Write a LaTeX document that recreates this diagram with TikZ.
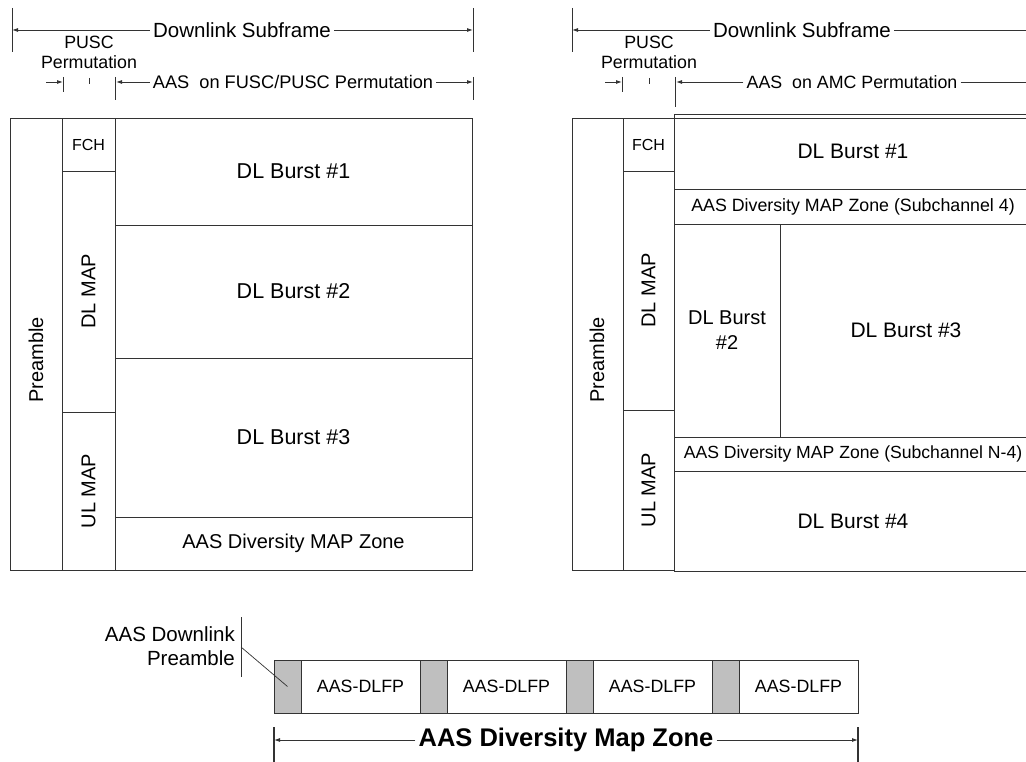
\documentclass[tikz,border=0pt]{standalone}
\usepackage{fontspec}
\setmainfont{Liberation Sans}
\usetikzlibrary{arrows.meta}
\newcommand\mybox[7][]{\node[box,#1,minimum width={#5-#3},minimum height={#6-#4}] (#2) at ({(#3+#5)/2},{(#4+#6)/2}) {#7};}
\begin{document}
\begin{tikzpicture}[x=1pt,y=-1pt,
  ln/.style={draw=black!80, line width=0.9pt},
  box/.style={ln, rectangle, inner sep=0pt, outer sep=0pt, anchor=center, align=center, font=\fontsize{20}{23}\selectfont},
  gbox/.style={fill=black!25},
  tx/.style={inner sep=0pt, align=center},
  big/.style={font=\fontsize{20}{23}\selectfont},
  mid/.style={font=\fontsize{17.8}{19}\selectfont},
  dim/.style={inner sep=3pt, align=center},
  arr/.style={ln, -{Latex[length=6pt,width=4pt]}},
]
\useasboundingbox (0,0) rectangle (1026,762);
\clip (0,0) rectangle (1026,762);

% ---------------- left frame ----------------
\mybox{pre1}{10}{118}{62}{570}{}
\node[tx, big, rotate=90] (pre1t) at (36,360) {Preamble};
\mybox[font=\fontsize{16}{18}\selectfont]{fch1}{62}{118}{115}{171}{FCH}
\mybox{dlm1}{62}{171}{115}{412}{}
\node[tx, big, rotate=90] (dlm1t) at (dlm1) {DL MAP};
\mybox{ulm1}{62}{412}{115}{570}{}
\node[tx, big, rotate=90] (ulm1t) at (ulm1) {UL MAP};
\mybox[font=\fontsize{21.5}{24}\selectfont]{b11}{115}{118}{472}{225}{DL Burst \#1}
\mybox[font=\fontsize{21.5}{24}\selectfont]{b12}{115}{225}{472}{358}{DL Burst \#2}
\mybox[font=\fontsize{21.5}{24}\selectfont]{b13}{115}{358}{472}{517}{DL Burst \#3}
\mybox[font=\fontsize{20}{22}\selectfont]{aas1}{115}{517}{472}{570}{AAS Diversity MAP Zone}

% ---------------- right frame ----------------
\mybox{pre2}{572}{118}{623}{570}{}
\node[tx, big, rotate=90] (pre2t) at (597,360) {Preamble};
\mybox[font=\fontsize{16}{18}\selectfont]{fch2}{623}{118}{674}{171}{FCH}
\mybox{dlm2}{623}{171}{674}{410}{}
\node[tx, big, rotate=90] (dlm2t) at (dlm2) {DL MAP};
\mybox{ulm2}{623}{410}{674}{570}{}
\node[tx, big, rotate=90] (ulm2t) at (ulm2) {UL MAP};
\mybox[font=\fontsize{21}{24}\selectfont]{b21}{674}{114}{1032}{189}{DL Burst \#1}
\coordinate (r118) at (1040,118);
\draw[ln] (pre2.north west) -- (r118);
\mybox[font=\fontsize{17.8}{19}\selectfont]{sub4}{674}{189}{1032}{224}{AAS Diversity MAP Zone (Subchannel 4)}
\mybox{b22}{674}{224}{780}{437}{DL Burst\\[2pt]\#2}
\mybox[font=\fontsize{21}{24}\selectfont]{b23}{780}{224}{1032}{437}{DL Burst \#3}
\mybox[font=\fontsize{17.6}{19}\selectfont]{subn}{674}{437}{1032}{471}{AAS Diversity MAP Zone (Subchannel N-4)}
\mybox[font=\fontsize{21}{24}\selectfont]{b24}{674}{471}{1032}{571}{DL Burst \#4}

% ---------------- left dimensions ----------------
\coordinate (l1a) at (12,8);   \coordinate (l1b) at (12,52);
\coordinate (l2a) at (473,8);  \coordinate (l2b) at (473,52);
\draw[ln] (l1a) -- (l1b);
\draw[ln] (l2a) -- (l2b);
\node[dim, font=\fontsize{20.5}{23}\selectfont] (ds1) at (242,30) {Downlink Subframe};
\coordinate (ds1L) at (12,30); \coordinate (ds1R) at (473,30);
\draw[arr] (ds1.west) -- (ds1L);
\draw[arr] (ds1.east) -- (ds1R);
\node[tx, mid] (pu1) at (89,52) {PUSC\\[1pt]Permutation};
\coordinate (p1s) at (46,82); \coordinate (p1e) at (63,82);
\draw[arr] (p1s) -- (p1e);
\coordinate (t1a) at (63,77); \coordinate (t1b) at (63,92);
\draw[ln] (t1a) -- (t1b);
\coordinate (m1a) at (89,78); \coordinate (m1b) at (89,84);
\draw[ln] (m1a) -- (m1b);
\coordinate (t2a) at (115,77); \coordinate (t2b) at (115,100);
\draw[ln] (t2a) -- (t2b);
\coordinate (t3a) at (473,77); \coordinate (t3b) at (473,100);
\draw[ln] (t3a) -- (t3b);
\node[dim, font=\fontsize{18.2}{20}\selectfont] (aa1) at (293,82) {AAS~~on FUSC/PUSC Permutation};
\coordinate (aa1L) at (116,82); \coordinate (aa1R) at (473,82);
\draw[arr] (aa1.west) -- (aa1L);
\draw[arr] (aa1.east) -- (aa1R);

% ---------------- right dimensions ----------------
\coordinate (r1a) at (572,8);  \coordinate (r1b) at (572,52);
\draw[ln] (r1a) -- (r1b);
\node[dim, font=\fontsize{20.5}{23}\selectfont] (ds2) at (802,30) {Downlink Subframe};
\coordinate (ds2L) at (572,30); \coordinate (ds2R) at (1040,30);
\draw[arr] (ds2.west) -- (ds2L);
\draw[ln] (ds2.east) -- (ds2R);
\node[tx, mid] (pu2) at (649,52) {PUSC\\[1pt]Permutation};
\coordinate (p2s) at (605,82); \coordinate (p2e) at (622,82);
\draw[arr] (p2s) -- (p2e);
\coordinate (u1a) at (622,77); \coordinate (u1b) at (622,92);
\draw[ln] (u1a) -- (u1b);
\coordinate (n1a) at (649,78); \coordinate (n1b) at (649,84);
\draw[ln] (n1a) -- (n1b);
\coordinate (u2a) at (675,77); \coordinate (u2b) at (675,107);
\draw[ln] (u2a) -- (u2b);
\node[dim, mid] (aa2) at (852,82) {AAS~~on AMC Permutation};
\coordinate (aa2L) at (676,82); \coordinate (aa2R) at (1040,82);
\draw[arr] (aa2.west) -- (aa2L);
\draw[ln] (aa2.east) -- (aa2R);

% ---------------- bottom zone ----------------
\mybox[gbox]{g1}{274}{660}{301}{713}{}
\mybox[mid]{d1}{301}{660}{420}{713}{AAS-DLFP}
\mybox[gbox]{g2}{420}{660}{447}{713}{}
\mybox[mid]{d2}{447}{660}{566}{713}{AAS-DLFP}
\mybox[gbox]{g3}{566}{660}{593}{713}{}
\mybox[mid]{d3}{593}{660}{712}{713}{AAS-DLFP}
\mybox[gbox]{g4}{712}{660}{739}{713}{}
\mybox[mid]{d4}{739}{660}{858}{713}{AAS-DLFP}

\node[tx, font=\fontsize{20.5}{23}\selectfont, align=right, anchor=east] (dlp) at (235,646) {AAS Downlink\\[1pt]Preamble};
\coordinate (v1a) at (241,617); \coordinate (v1b) at (241,677);
\draw[ln] (v1a) -- (v1b);
\coordinate (ldA) at (241,647);
\draw[ln, line width=0.7pt] (ldA) -- (g1.center);

\coordinate (z1a) at (274,727); \coordinate (z1b) at (274,762);
\coordinate (z2a) at (858,727); \coordinate (z2b) at (858,762);
\draw[ln, line width=1.1pt] (z1a) -- (z1b);
\draw[ln, line width=1.1pt] (z2a) -- (z2b);
\node[dim, font=\fontsize{25.5}{28}\selectfont\bfseries] (zone) at (566,740) {AAS Diversity Map Zone};
\coordinate (zL) at (274,740); \coordinate (zR) at (858,740);
\draw[arr] (zone.west) -- (zL);
\draw[arr] (zone.east) -- (zR);
\end{tikzpicture}
\end{document}
